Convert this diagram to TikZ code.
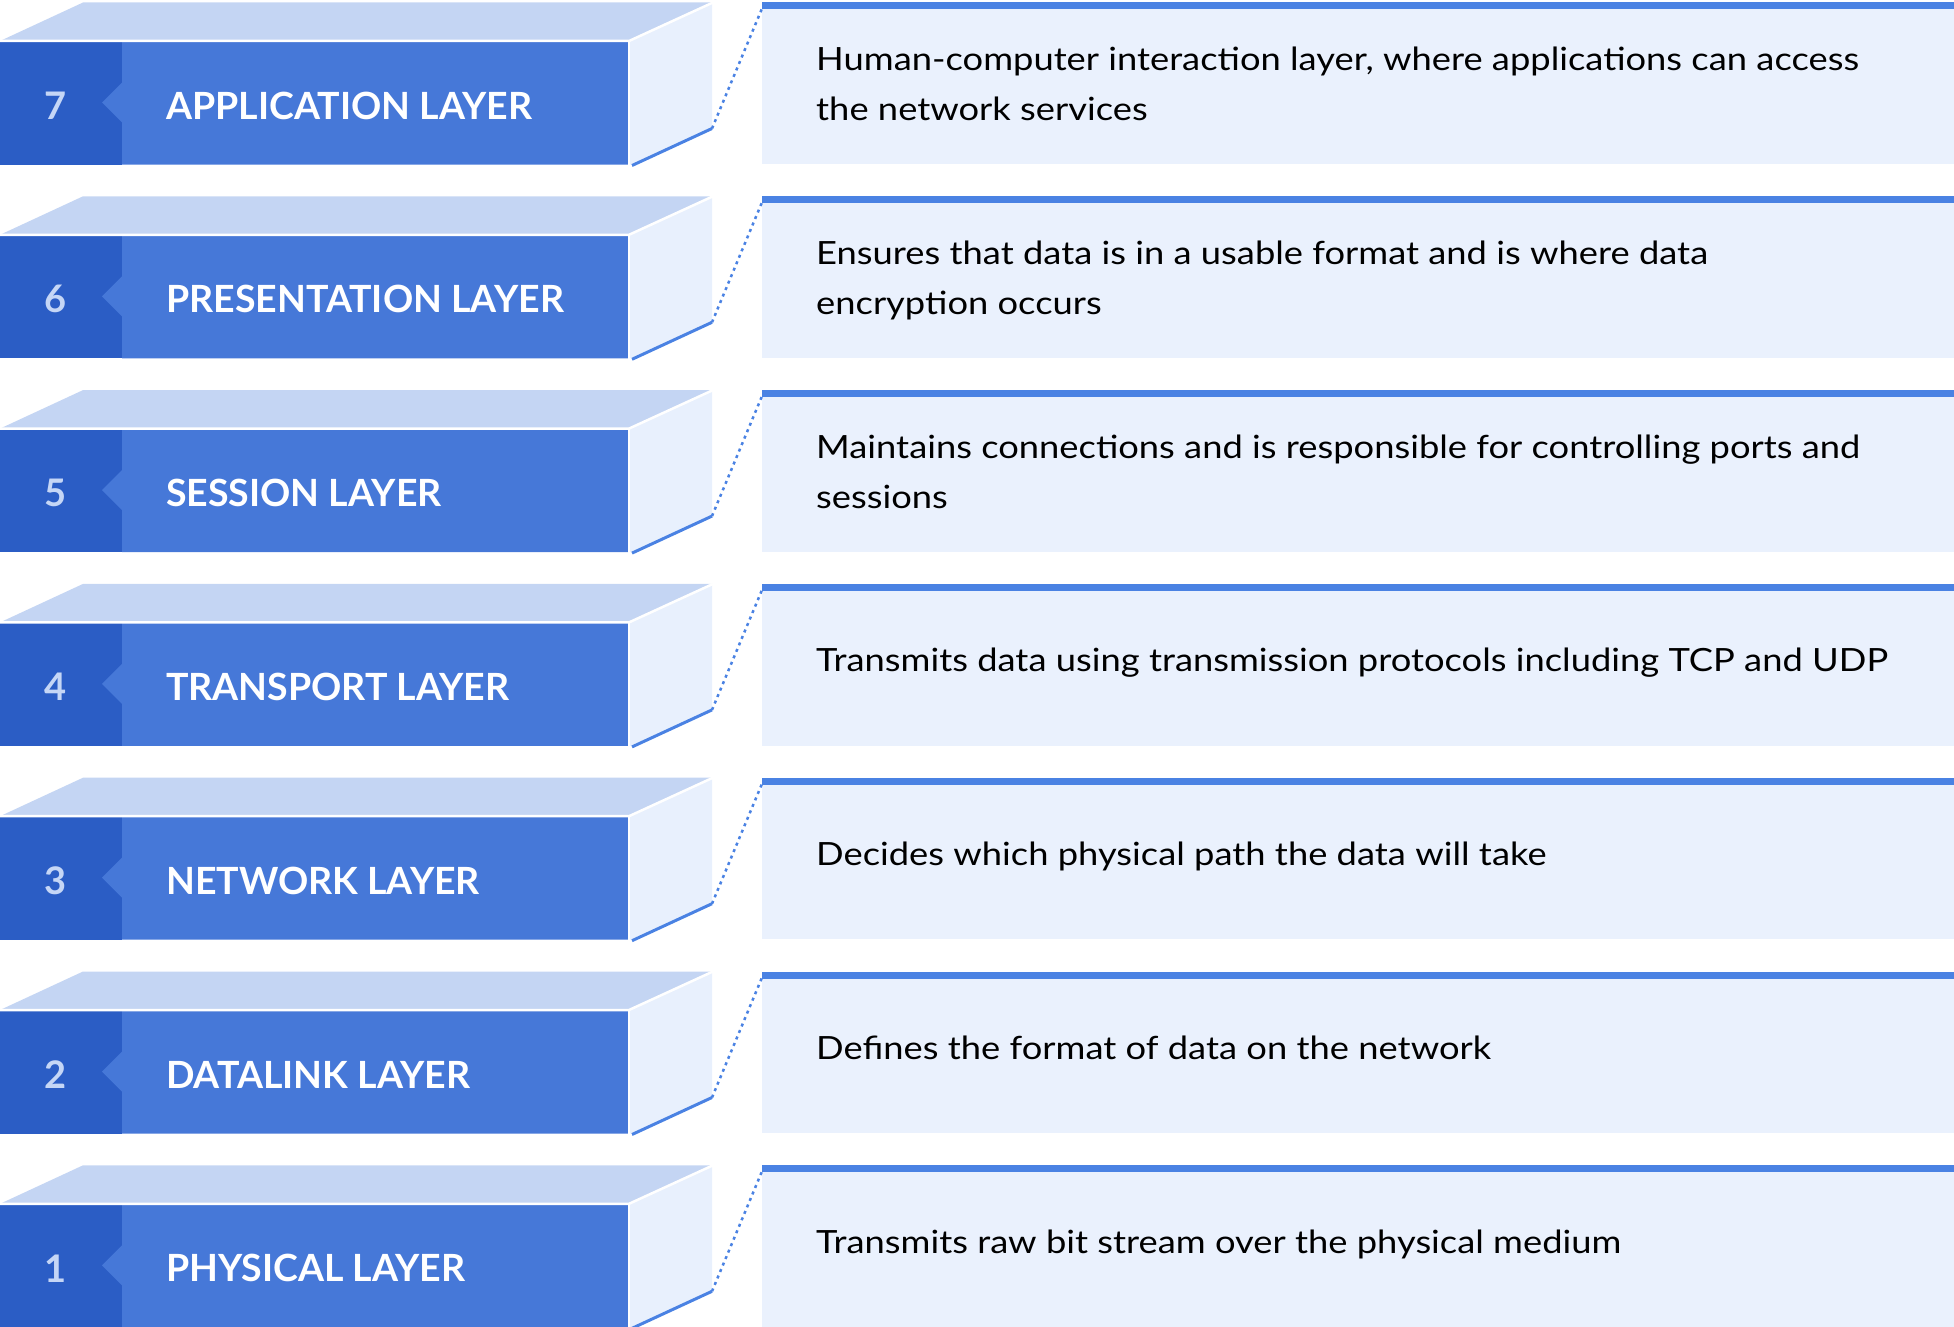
\documentclass[tikz,border=0pt]{standalone}
\usepackage{fontspec}
\setmainfont{Lato}
\newfontfamily\descfont{Lato}[FakeStretch=1.135]
\definecolor{darkb}{HTML}{2B5DC5}
\definecolor{mainb}{HTML}{4678D8}
\definecolor{topf}{HTML}{C4D5F3}
\definecolor{sidef}{HTML}{E8F0FD}
\definecolor{boxf}{HTML}{EAF1FD}
\definecolor{barb}{HTML}{4A82E3}
\definecolor{numc}{HTML}{C5D6F6}
\tikzset{
  numstyle/.style={text=numc, font=\fontsize{38}{40}\selectfont\bfseries, inner sep=0pt},
  labstyle/.style={text=white, font=\fontsize{37.5}{40}\selectfont\bfseries, inner sep=0pt, anchor=west},
  descbox/.style={fill=boxf, minimum width=1192pt, minimum height=161.5pt, inner sep=0pt, anchor=north west},
  desctext/.style={text=black, font=\descfont\fontsize{32}{50}\selectfont, inner sep=0pt, align=left, anchor=base west},
  dotline/.style={barb, line width=2.5pt, dash pattern=on 3pt off 4pt},
  edgeline/.style={barb, line width=3pt},
  sepline/.style={white, line width=2.5pt}
}
\begin{document}
\begin{tikzpicture}[x=1pt,y=-1pt]
\useasboundingbox (0,0) rectangle (1954,1327);
\foreach \n/\lab/\yy/\desc [count=\i from 0] in {
  7/APPLICATION LAYER/118.5/{Human-computer interaction layer, where applications can access\\the network services},
  6/PRESENTATION LAYER/118.5/{Ensures that data is in a usable format and is where data\\encryption occurs},
  5/SESSION LAYER/118.5/{Maintains connections and is responsible for controlling ports and\\sessions},
  4/TRANSPORT LAYER/88/{Transmits data using transmission protocols including TCP and UDP},
  3/NETWORK LAYER/88/{Decides which physical path the data will take},
  2/DATALINK LAYER/88/{Defines the format of data on the network},
  1/PHYSICAL LAYER/88/{Transmits raw bit stream over the physical medium}}{
  \pgfmathsetmacro\T{2.5+\i*193.8}
  \begin{scope}[yshift=-\T pt]
    % top face
    \fill[topf] (0,38.5) -- (83,0) -- (712,0) -- (628,38.5) -- cycle;
    % side face
    \fill[sidef] (628,38.5) -- (712,0) -- (712,126) -- (628,163) -- cycle;
    % front faces
    \fill[darkb] (0,38.5) rectangle (122,162);
    \fill[mainb] (122,38.5) -- (628,38.5) -- (628,162) -- (122,162) -- (122,120) -- (102,100) -- (122,80) -- cycle;
    \draw[sepline] (0,38.5) -- (629,38.5) -- (713,0);
    \draw[sepline] (629,38.5) -- (629,164);
    \draw[edgeline] (632,163) -- (712,126);
    \node[numstyle] (num\n) at (56,103) {\n};
    \node[labstyle] (lab\n) at (166,103) {\lab};
    \node[descbox] (box\n) at (762,0) {};
    \fill[barb] (box\n.north west) rectangle ([yshift=-7pt]box\n.north east);
    \coordinate (corner\n) at (712,126);
    \draw[dotline] (corner\n) -- ([yshift=-6pt]box\n.north west);
    \node[desctext] (txt\n) at (816,\yy) {\desc};
  \end{scope}
}
\end{tikzpicture}
\end{document}
